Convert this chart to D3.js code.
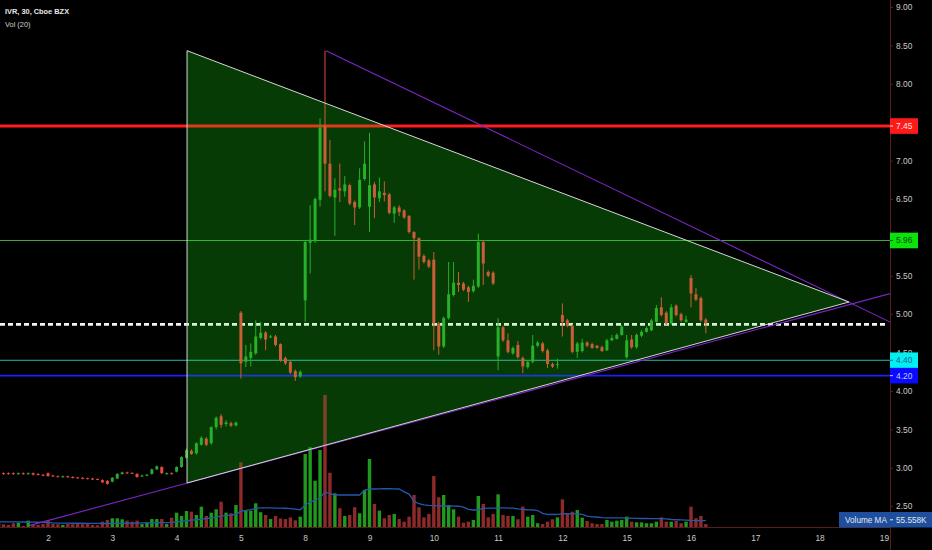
<!DOCTYPE html>
<html><head><meta charset="utf-8">
<script src="https://cdn.jsdelivr.net/npm/d3@7"></script>
<style>html,body{margin:0;padding:0;background:#000;overflow:hidden}</style>
</head><body><svg id="c" width="932" height="550"></svg>
<script>
// ---------------- DATA ----------------
const dayLabels = ["2","3","4","5","8","9","10","11","12","15","16","17","18","19"];
const barsPerDay = 13;
const firstBar = -10; // 30-min bar index of first bar (bar 0 = first bar of day "2")

const open = [
 2.91,2.93,2.93,2.93,2.92,2.93,2.92,2.93,2.92,2.91,
 2.93,2.90,2.89,2.88,2.89,2.88,2.875,2.87,2.865,2.86,2.855,2.84,2.83,
 2.82,2.86,2.92,2.94,2.935,2.92,2.89,2.90,2.92,2.98,3.01,2.92,2.93,
 2.95,3.01,3.13,3.22,3.19,3.30,3.38,3.32,3.53,3.67,3.57,3.58,3.55,
 5.02,4.38,4.43,4.49,4.69,4.76,4.70,4.71,4.61,4.43,4.38,4.26,4.19,
 5.18,5.93,5.95,6.49,7.45,6.96,6.52,6.64,6.60,6.68,6.46,6.39,6.76,
 6.40,6.69,6.51,6.58,6.56,6.31,6.39,6.35,6.28,6.07,5.99,5.76,5.70,
 5.71,4.88,4.58,4.95,5.25,5.41,5.40,5.35,5.30,5.36,5.94,5.55,5.54,
 4.45,4.83,4.66,4.49,4.60,4.43,4.31,4.38,4.59,4.62,4.53,4.35,4.34,
 4.99,4.92,4.85,4.51,4.52,4.63,4.61,4.59,4.57,4.53,4.66,4.68,4.73,
 4.44,4.67,4.57,4.72,4.77,4.79,4.90,5.09,5.02,4.88,5.11,5.00,4.90,
 5.47,5.26,5.21,4.93
];
const high = [
 2.93,2.94,2.94,2.94,2.94,2.94,2.94,2.94,2.93,2.92,
 2.94,2.91,2.90,2.90,2.90,2.89,2.88,2.88,2.87,2.87,2.86,2.85,2.84,
 2.88,2.93,2.95,2.95,2.94,2.93,2.91,2.92,2.99,3.03,3.02,2.94,2.94,
 3.02,3.15,3.25,3.24,3.33,3.41,3.40,3.54,3.67,3.70,3.62,3.60,3.60,
 5.04,4.60,4.62,4.92,4.90,4.78,4.73,4.73,4.62,4.45,4.40,4.28,4.27,
 5.96,6.42,6.52,7.55,8.43,7.27,6.77,6.96,6.80,6.70,6.48,6.90,7.25,
 7.36,6.72,6.78,6.73,6.58,6.41,6.42,6.37,6.29,6.08,6.00,5.78,5.72,
 5.81,4.90,4.97,5.68,5.68,5.55,5.42,5.37,5.45,6.05,5.96,5.57,5.56,
 4.95,4.85,4.75,4.58,4.65,4.45,4.40,4.73,4.65,4.64,4.55,4.37,4.42,
 5.14,4.94,4.87,4.64,4.68,4.65,4.63,4.60,4.59,4.68,4.73,4.75,4.86,
 4.73,4.73,4.75,4.79,4.84,4.94,5.12,5.22,5.04,5.13,5.13,5.02,4.98,
 5.51,5.34,5.23,4.95
];
const low = [
 2.90,2.91,2.91,2.91,2.91,2.91,2.91,2.90,2.90,2.89,
 2.89,2.88,2.88,2.87,2.87,2.86,2.86,2.85,2.85,2.84,2.84,2.80,2.78,
 2.81,2.85,2.91,2.92,2.92,2.87,2.88,2.89,2.91,2.97,2.92,2.91,2.91,
 2.94,3.00,3.12,3.17,3.17,3.29,3.28,3.30,3.50,3.52,3.54,3.53,3.54,
 4.16,4.31,4.32,4.47,4.67,4.53,4.69,4.58,4.38,4.34,4.22,4.13,4.17,
 4.90,5.53,5.93,6.40,6.60,6.52,6.02,6.46,6.53,6.42,6.16,6.37,6.74,
 6.07,6.25,6.46,6.47,6.30,6.19,6.28,6.24,6.05,5.45,5.58,5.66,5.60,
 4.53,4.47,4.56,4.93,5.23,5.29,5.30,5.16,5.28,5.34,5.38,5.48,5.38,
 4.27,4.64,4.49,4.47,4.42,4.23,4.29,4.36,4.57,4.50,4.30,4.30,4.29,
 4.71,4.83,4.49,4.43,4.50,4.57,4.55,4.55,4.51,4.52,4.65,4.67,4.72,
 4.42,4.55,4.55,4.70,4.76,4.78,4.89,4.97,4.86,4.86,4.97,4.90,4.89,
 5.09,5.17,4.90,4.75
];
const close = [
 2.92,2.92,2.92,2.92,2.93,2.92,2.93,2.91,2.91,2.90,
 2.89,2.89,2.885,2.89,2.88,2.87,2.865,2.86,2.855,2.85,2.845,2.81,2.79,
 2.87,2.92,2.94,2.93,2.925,2.88,2.90,2.91,2.98,3.02,2.93,2.93,2.92,
 3.01,3.14,3.23,3.18,3.32,3.39,3.30,3.53,3.65,3.56,3.59,3.55,3.59,
 4.36,4.45,4.51,4.71,4.76,4.67,4.71,4.60,4.40,4.36,4.24,4.18,4.25,
 5.94,5.97,6.50,7.43,6.96,6.54,6.62,6.61,6.69,6.44,6.39,6.75,6.96,
 6.68,6.52,6.60,6.55,6.32,6.39,6.33,6.26,6.07,5.99,5.75,5.68,5.62,
 4.88,4.58,4.95,5.26,5.41,5.38,5.32,5.29,5.37,5.94,5.66,5.50,5.40,
 4.83,4.66,4.51,4.56,4.44,4.32,4.38,4.59,4.63,4.52,4.35,4.32,4.35,
 4.90,4.85,4.51,4.62,4.63,4.59,4.56,4.56,4.52,4.66,4.69,4.73,4.84,
 4.66,4.57,4.73,4.77,4.82,4.92,5.08,4.99,4.88,5.09,4.99,4.92,4.93,
 5.27,5.19,4.92,4.88
];
// volume in thousands
const volume = [
 38,24,18,33,38,9,56,26,18,26,
 56,26,24,18,26,24,26,24,26,18,15,47,62,
 77,77,68,56,47,56,26,38,70,70,70,26,82,
 126,97,141,135,106,179,97,126,156,223,126,121,194,
 570,144,144,209,130,106,70,97,75,70,84,59,91,
 643,702,408,678,1163,478,297,165,97,106,174,121,326,
 599,203,144,77,106,115,70,47,91,282,174,85,115,
 449,262,282,194,156,91,38,47,62,273,203,85,115,
 288,106,97,97,68,179,91,106,33,26,47,68,85,
 244,115,135,150,82,53,33,26,26,62,47,56,62,
 91,47,41,41,33,33,47,85,47,47,53,33,47,
 179,77,97,26
];
// Volume MA (20), thousands
const volumeMA = [
 46,46,45,45,45,44,44,43,42,40,
 38,36,35,34,34,33,33,33,32,32,32,31,31,
 31,32,33,33,34,35,36,36,37,38,38,39,41,
 45,50,55,60,64,70,75,80,87,95,100,104,110,
 140,146,153,165,168,168,168,167,166,165,162,158,152,
 194,220,238,255,311,291,284,282,282,282,282,282,326,
 333,335,336,337,337,336,335,310,290,225,205,195,190,
 188,186,185,185,184,183,175,155,150,152,165,167,167,
 168,168,167,166,160,155,152,150,145,120,112,110,112,
 115,118,116,115,112,95,90,88,82,80,80,80,80,
 79,78,76,75,75,74,74,73,72,66,64,62,60,
 58,57,56,55.558
];
// price ticks shown on the axis (7.50 and 6.00 are hidden behind level labels)
const priceTicks = [2.5,3.0,3.5,4.0,4.5,5.0,5.5,6.5,7.0,8.0,8.5,9.0];
const levelPrices = [7.45, 5.96, 4.40, 4.20];
const dashedLevel = 4.868;
// drawings in (bar index, price)
const trianglePts = [[28.11, 8.431], [28.11, 2.802], [161.95, 5.159]];
const trendUpper = [[56.21, 8.431], [170.5, 4.89]];
const trendLower = [[-3.64, 2.250], [170.5, 5.273]];
const volMALast = "55.558K";

// ---------------- CHART ----------------
const W = 932, H = 550, axisX = 890, axisY = 527;
const x = d3.scaleLinear().domain([0, 130]).range([48, 691]);
const y = d3.scaleLinear().domain([2.5, 9.0]).range([506.2, 7]);
const v = d3.scaleLinear().domain([0, 1000]).range([axisY, 413.5]);

const upC = "#2ea52e", dnC = "#e8483f", upV = "#1f9a1f", dnV = "#8e2a2a";
const axisCol = "#5a1d1d", txtCol = "#c9c9c9";
const font = "'Liberation Sans', Arial, sans-serif";

const svg = d3.select("#c");
svg.append("rect").attr("width", W).attr("height", H).attr("fill", "#000");
const defs = svg.append("defs");
defs.append("clipPath").attr("id", "plot")
  .append("rect").attr("x", 0).attr("y", 0).attr("width", axisX).attr("height", axisY);
const g = svg.append("g").attr("clip-path", "url(#plot)");

const bars = open.map((o, k) => ({i: firstBar + k, o, h: high[k], l: low[k], c: close[k], vol: volume[k], ma: volumeMA[k]}));
const col = d => d.c >= d.o ? upC : dnC;
const triPix = trianglePts.map(([i, p]) => [x(i), y(p)]);
const triStr = triPix.map(p => p.join(",")).join(" ");

// triangle base fill
g.append("polygon").attr("points", triStr).attr("fill", "#072007");

// volume
g.selectAll("rect.vol").data(bars).join("rect").attr("class", "vol")
  .attr("x", d => x(d.i) - 1.7).attr("width", 3.4)
  .attr("y", d => v(d.vol)).attr("height", d => axisY - v(d.vol))
  .attr("fill", d => d.c >= d.o ? upV : dnV);
g.append("path").datum(bars)
  .attr("d", d3.line().x(d => x(d.i)).y(d => v(d.ma)))
  .attr("fill", "none").attr("stroke", "#2458b0").attr("stroke-width", 1.3);

// horizontal levels
const levelStyle = [
  {stroke: "#ff1e1e", w: 3, box: "#ff1a1a", txt: "#ffe6e6"},
  {stroke: "#3fae3f", w: 1, box: "#0be30b", txt: "#0a4a0a"},
  {stroke: "#2ab8ae", w: 1, box: "#00f0f0", txt: "#1a5a9a"},
  {stroke: "#1e1eff", w: 1.6, box: "#0a0aff", txt: "#c8c8ff"}
];
levelPrices.forEach((p, k) => {
  g.append("line").attr("x1", 0).attr("x2", axisX).attr("y1", y(p)).attr("y2", y(p))
    .attr("stroke", levelStyle[k].stroke).attr("stroke-width", levelStyle[k].w);
});
g.append("line").attr("x1", 0).attr("x2", 887).attr("y1", y(dashedLevel)).attr("y2", y(dashedLevel))
  .attr("stroke", "#f2f2f2").attr("stroke-width", 2.6).attr("stroke-dasharray", "5,3");

// candles
g.selectAll("line.wick").data(bars).join("line").attr("class", "wick")
  .attr("x1", d => x(d.i)).attr("x2", d => x(d.i))
  .attr("y1", d => y(d.h)).attr("y2", d => y(d.l))
  .attr("stroke", col).attr("stroke-width", 1);
g.selectAll("rect.body").data(bars).join("rect").attr("class", "body")
  .attr("x", d => x(d.i) - 1.5).attr("width", 3)
  .attr("y", d => y(Math.max(d.o, d.c)))
  .attr("height", d => Math.max(1, Math.abs(y(d.o) - y(d.c))))
  .attr("fill", col);

// triangle overlay
g.append("polygon").attr("points", triStr).attr("fill", "rgba(0,255,0,0.12)");

// trend lines
[trendUpper, trendLower].forEach(t => {
  g.append("line").attr("x1", x(t[0][0])).attr("y1", y(t[0][1]))
    .attr("x2", x(t[1][0])).attr("y2", y(t[1][1]))
    .attr("stroke", "#7d27c8").attr("stroke-width", 1.1);
});
g.append("polygon").attr("points", triStr)
  .attr("fill", "none").attr("stroke", "#d6d6d6").attr("stroke-width", 1);

// axes lines
svg.append("line").attr("x1", axisX + 0.5).attr("x2", axisX + 0.5).attr("y1", 0).attr("y2", H)
  .attr("stroke", axisCol).attr("stroke-width", 1);
svg.append("line").attr("x1", 0).attr("x2", axisX).attr("y1", axisY + 0.5).attr("y2", axisY + 0.5)
  .attr("stroke", axisCol).attr("stroke-width", 1);

// right price axis
const ra = svg.append("g").attr("transform", `translate(${axisX},0)`)
  .call(d3.axisRight(y).tickValues(priceTicks).tickFormat(d3.format(".2f")).tickSize(3).tickPadding(3));
ra.select(".domain").remove();
ra.selectAll("line").attr("stroke", axisCol);
ra.selectAll("text").attr("fill", txtCol).style("font-family", font).style("font-size", "8.4px");
// the 4.50 label peeks out above the 4.40 level label: keep only its visible upper part
defs.append("clipPath").attr("id", "axclip").append("rect")
  .attr("x", -5).attr("y", -20).attr("width", 60).attr("height", 20 + (y(4.40) - 7.8) - y(4.5));
ra.selectAll(".tick").filter(d => d === 4.5).attr("clip-path", "url(#axclip)");

// bottom time axis
const ba = svg.append("g").attr("transform", `translate(0,${axisY})`)
  .call(d3.axisBottom(x).tickValues(dayLabels.map((d, k) => k * barsPerDay))
    .tickFormat((d, k) => dayLabels[k]).tickSize(0).tickPadding(8));
ba.select(".domain").remove();
ba.selectAll("text").attr("fill", txtCol).style("font-family", font).style("font-size", "8.4px");

// level label boxes
levelPrices.forEach((p, k) => {
  const yy = y(p);
  svg.append("rect").attr("x", axisX).attr("y", yy - 7.8).attr("width", 28).attr("height", 15.6)
    .attr("fill", levelStyle[k].box);
  svg.append("line").attr("x1", axisX).attr("x2", axisX + 3).attr("y1", yy).attr("y2", yy)
    .attr("stroke", levelStyle[k].txt).attr("stroke-width", 1);
  svg.append("text").attr("x", axisX + 6).attr("y", yy).attr("dy", "0.35em")
    .attr("fill", levelStyle[k].txt).style("font-family", font).style("font-size", "8.4px")
    .text(d3.format(".2f")(p));
});

// Volume MA label
svg.append("rect").attr("x", 839).attr("y", 512).attr("width", 93).attr("height", 15.5).attr("fill", "#1e4f9e");
svg.append("text").attr("x", 845).attr("y", 519.8).attr("dy", "0.35em").attr("fill", "#e6e6e6")
  .style("font-family", font).style("font-size", "8.2px").text("Volume MA");
svg.append("line").attr("x1", axisX).attr("x2", axisX + 3).attr("y1", 519.8).attr("y2", 519.8)
  .attr("stroke", "#e6e6e6").attr("stroke-width", 1);
svg.append("text").attr("x", axisX + 6).attr("y", 519.8).attr("dy", "0.35em").attr("fill", "#e6e6e6")
  .style("font-family", font).style("font-size", "8.2px").text(volMALast);

// legend
svg.append("text").attr("x", 5).attr("y", 14).attr("fill", "#e8e8e8")
  .style("font-family", font).style("font-size", "7.4px").style("font-weight", "600")
  .text("IVR, 30, Cboe BZX");
svg.append("text").attr("x", 5).attr("y", 26.5).attr("fill", "#cfcfcf")
  .style("font-family", font).style("font-size", "7.4px")
  .text("Vol (20)");
</script>
</body></html>
